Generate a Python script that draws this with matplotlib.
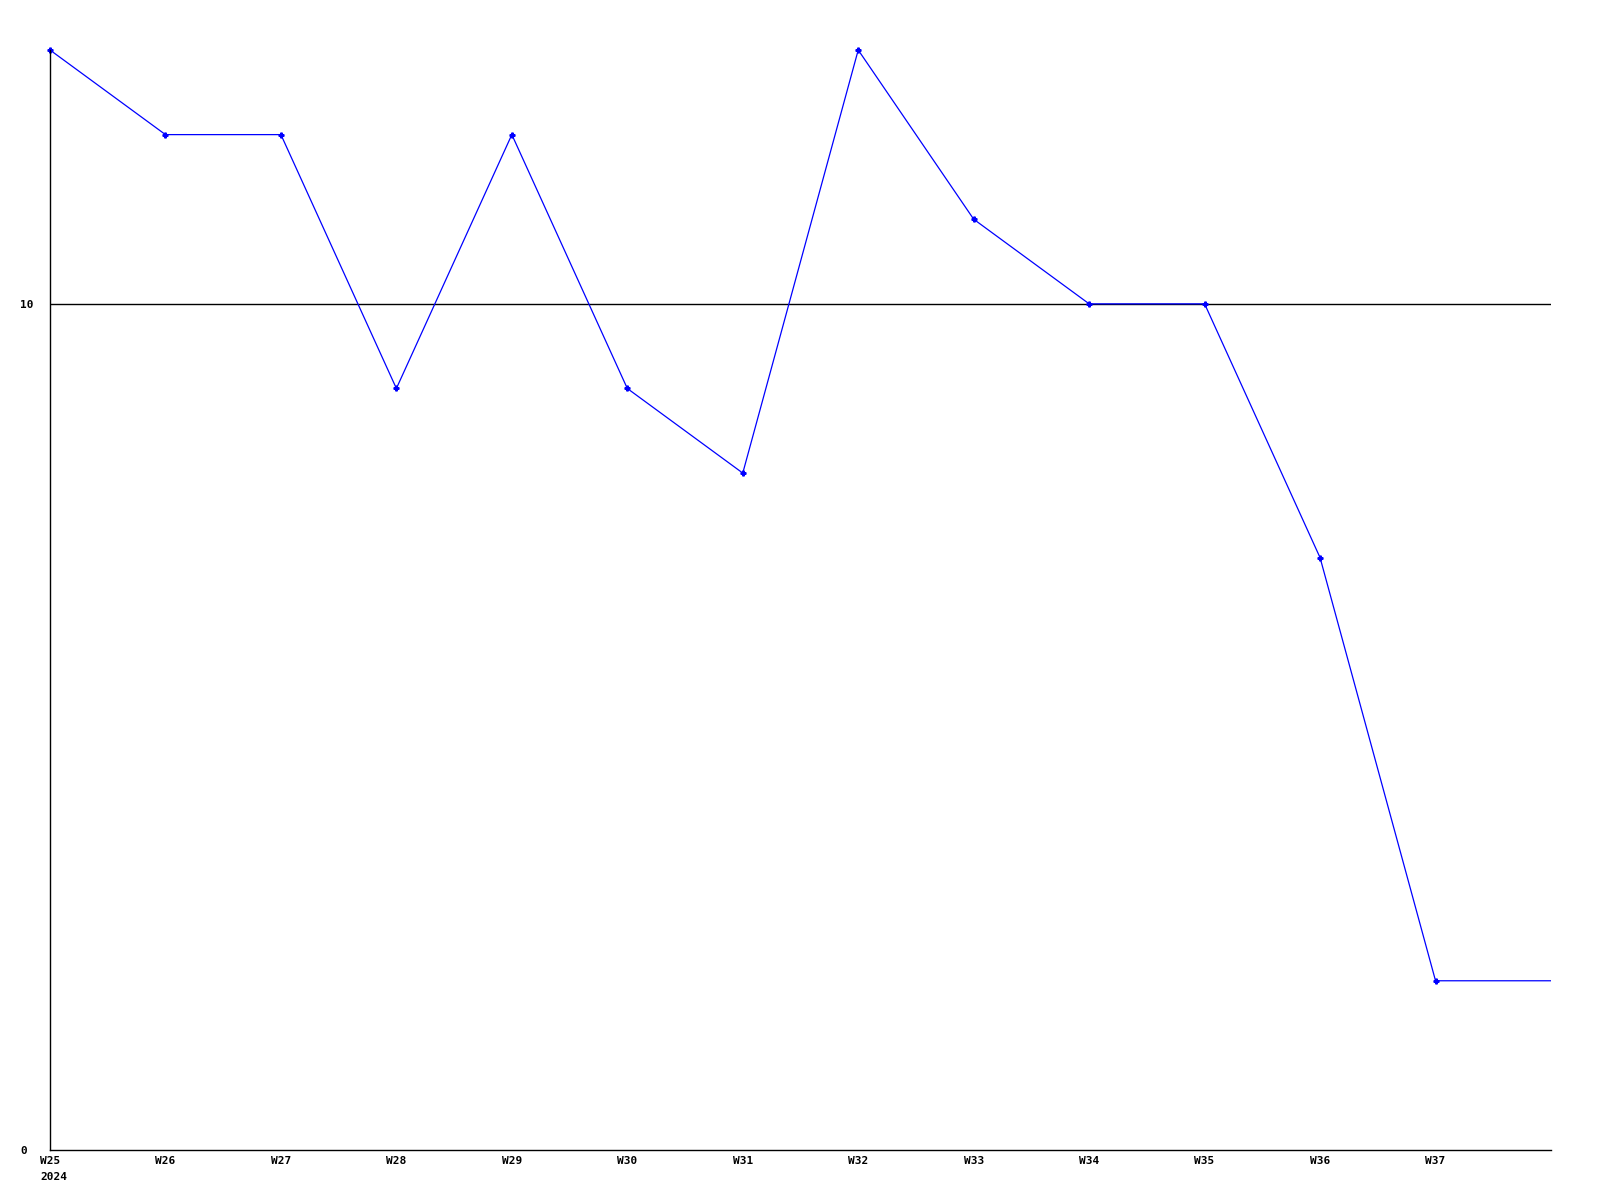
import matplotlib
matplotlib.use("Agg")
import matplotlib.pyplot as plt

# weekly values, W38 only continues the line to the right edge
weeks = ["W25", "W26", "W27", "W28", "W29", "W30", "W31",
         "W32", "W33", "W34", "W35", "W36", "W37"]
values = [13, 12, 12, 9, 12, 9, 8, 13, 11, 10, 10, 7, 2]
tail_value = 2
year_label = "2024"
y_ticks = [0, 10]

plt.rcParams['font.family'] = ['DejaVu Sans Mono']

fig = plt.figure(figsize=(16, 12), dpi=100)
ax = fig.add_axes([50/1600, 50/1200, (1551-50)/1600, (1150-50)/1200])

xs = list(range(len(weeks)))
ax.plot(xs + [len(weeks)], values + [tail_value], color="#0000ff", lw=0.9)
ax.plot(xs, values, ls="none", marker="P", ms=3.5, color="#0000ff", clip_on=False)

ax.axhline(10, color="black", lw=1.0, zorder=0)

ax.set_xlim(0, len(weeks))
ax.set_ylim(0, 13)
ax.set_xticks(xs)
ax.set_xticklabels(weeks, fontsize=8, fontweight="bold")
ax.set_yticks(y_ticks)
ax.set_yticklabels([str(t) for t in y_ticks], fontsize=8, fontweight="bold")
ax.tick_params(length=0, pad=4)
# labels left aligned, starting ~30px left of the axis
ax.tick_params(axis="y", pad=21.5)
for lab in ax.get_yticklabels():
    lab.set_horizontalalignment("left")

for s in ["top", "right"]:
    ax.spines[s].set_visible(False)
for s in ["left", "bottom"]:
    ax.spines[s].set_color("black")
    ax.spines[s].set_linewidth(1.0)

ax.annotate(year_label, xy=(0, 0), xycoords="data", xytext=(-10, -22),
            textcoords="offset pixels", ha="left", va="top",
            fontsize=8, fontweight="bold", annotation_clip=False)

fig.savefig("out.png", dpi=100, facecolor="white")
